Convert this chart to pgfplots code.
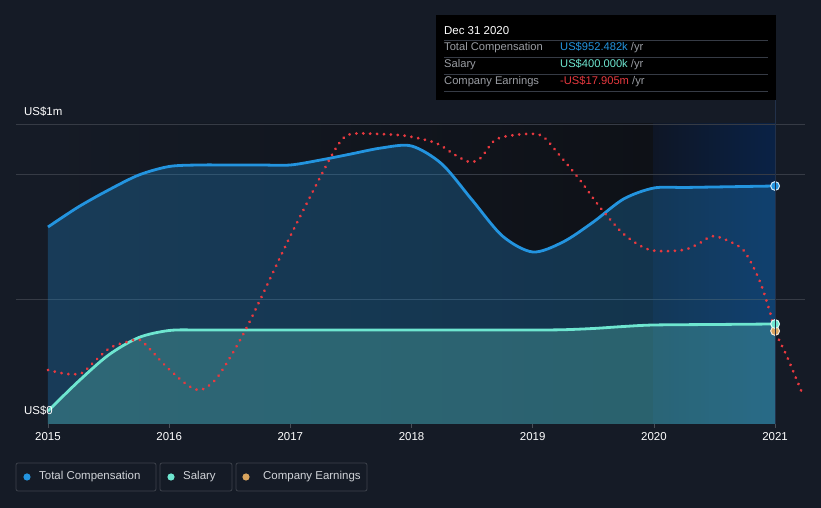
\documentclass[border=0pt]{standalone}
\usepackage{fontspec}
\setmainfont{Liberation Sans}
\usepackage{pgfplots}
\pgfplotsset{compat=1.18}

\definecolor{bg}{HTML}{151B26}
\definecolor{plotbg}{HTML}{0E1117}
\definecolor{bandL}{HTML}{0E1626}
\definecolor{bandR}{HTML}{0A2246}
\definecolor{gridc}{HTML}{363B45}
\definecolor{axisc}{HTML}{4A4F58}
\definecolor{compc}{HTML}{2394DF}
\definecolor{salc}{HTML}{6EE6D0}
\definecolor{earnc}{HTML}{E8393F}
\definecolor{earndot}{HTML}{D9A45E}
\definecolor{lblc}{HTML}{9A9DA3}
\definecolor{legtxt}{HTML}{D0D3D8}
\definecolor{legbox}{HTML}{3D424B}
\definecolor{hoverc}{HTML}{22314A}

\pgfplotstableread{
year  comp
2015.0  788
2015.25 868
2015.5  936
2015.75 996
2016.0  1030
2016.25 1036
2016.5  1036
2016.75 1036
2017.0  1036
2017.25 1056
2017.5  1080
2017.75 1104
2018.0  1112
2018.25 1040
2018.5  896
2018.75 752
2019.0  688
2019.25 728
2019.5  808
2019.75 900
2020.0  944
2020.25 946
2020.5  948
2020.75 950
2021.0  952
}\comptable

\pgfplotstableread{
year  sal
2015.0  52
2015.25 170
2015.5  276
2015.75 346
2016.0  374
2016.25 376
2016.5  376
2016.75 376
2017.0  376
2017.5  376
2018.0  376
2018.5  376
2019.0  376
2019.25 377
2019.5  382
2019.75 390
2020.0  396
2020.5  398
2021.0  400
}\saltable

\pgfplotstableread{
year    earn
2015.0   216
2015.157 200
2015.28  204
2015.37  244
2015.51  304
2015.65  328
2015.76  336
2015.87  284
2015.98  228
2016.15  156
2016.26  136
2016.38  176
2016.5   264
2016.63  376
2016.75  496
2017.0   752
2017.29  1028
2017.41  1128
2017.5   1160
2017.73  1160
2017.96  1152
2018.2   1124
2018.36  1076
2018.48  1048
2018.57  1064
2018.69  1136
2018.85  1156
2019.02  1160
2019.1   1144
2019.22  1076
2019.39  976
2019.56  864
2019.76  756
2019.97  696
2020.24  696
2020.38  724
2020.5   752
2020.71  708
2020.79  656
2020.88  564
2020.96  444
2021.0   372
2021.1   268
2021.23  116
}\earntable

\begin{document}
\begin{tikzpicture}[x=1bp,y=1bp]
\useasboundingbox (0,0) rectangle (821,508);
\fill[bg] (0,0) rectangle (821,508);
% darker plot area and the hover band
\shade[left color=bg, right color=plotbg] (48,84) rectangle (653,384);
\shade[left color=bandL, right color=bandR] (653,84) rectangle (775,384);

\begin{axis}[
    at={(16bp,84bp)}, anchor=south west,
    scale only axis, width=789bp, height=300bp,
    xmin=2014.736, xmax=2021.247,
    ymin=0, ymax=1200,
    axis line style={draw=none},
    xtick={2015,2016,2017,2018,2019,2020,2021},
    xticklabels={2015,2016,2017,2018,2019,2020,2021},
    xtick pos=bottom, tick align=outside,
    major tick length=4bp,
    xtick style={draw=axisc, line width=0.7bp},
    xticklabel style={font=\fontsize{11.5}{13}\selectfont, text=white, yshift=-0.5bp},
    ytick={500,1000}, yticklabels={}, ytick style={draw=none},
    ymajorgrids, grid style={draw=gridc, line width=0.8bp},
    clip=true,
]
% total compensation area
\addplot[draw=none, fill=compc, fill opacity=0.27, smooth] table[x=year, y=comp] {\comptable} \closedcycle;
% salary area
\addplot[draw=none, fill=salc, fill opacity=0.26, smooth] table[x=year, y=sal] {\saltable} \closedcycle;

% axis lines at 0 and top
\draw[axisc, line width=0.9bp] (rel axis cs:0,0) -- (rel axis cs:1,0);
\draw[gridc, line width=0.8bp] (rel axis cs:0,1) -- (rel axis cs:1,1);

% total compensation line
\addplot[compc, line width=2.8bp, smooth] table[x=year, y=comp] {\comptable};
% salary line
\addplot[salc, line width=2.8bp, smooth] table[x=year, y=sal] {\saltable};
% company earnings (own scale, dotted)
\addplot[earnc, line width=3bp, line cap=round, dash pattern=on 0.1bp off 6.8bp, smooth] table[x=year, y=earn] {\earntable};
% end points
\addplot[only marks, mark=*, mark size=4.4bp, mark options={fill=compc, draw=white!80!compc, line width=1bp}] coordinates {(2021,952)};
\addplot[only marks, mark=*, mark size=4.4bp, mark options={fill=earndot, draw=white!75!earndot, line width=1bp}] coordinates {(2021,372)};
\addplot[only marks, mark=*, mark size=4.4bp, mark options={fill=salc, draw=white!75!salc, line width=1bp}] coordinates {(2021,400)};
\end{axis}

% hover line
\draw[hoverc, line width=0.8bp] (775,84) -- (775,408);

% y labels
\node[anchor=west, text=white, font=\fontsize{11.5}{13}\selectfont, inner sep=0] at (24,396) {US\$1m};
\node[anchor=west, text=white, font=\fontsize{11.5}{13}\selectfont, inner sep=0] at (24,97) {US\$0};

% tooltip
\fill[black] (436,408) rectangle (776,493);
\node[anchor=west, text=white, font=\fontsize{11.5}{13}\selectfont, inner sep=0] at (444,477) {Dec 31 2020};
\foreach \yy in {468,451,434,417} {\draw[gridc, line width=0.7bp] (444,\yy) -- (768,\yy);}
\begin{scope}[every node/.style={anchor=west, inner sep=0, font=\fontsize{11.2}{13}\selectfont}]
\node[text=lblc] at (444,460) {Total Compensation};
\node[text=lblc] at (444,443) {Salary};
\node[text=lblc] at (444,426) {Company Earnings};
\node at (560,460) {\textcolor{compc}{US\$952.482k} \textcolor{lblc}{/yr}};
\node at (560,443) {\textcolor{salc}{US\$400.000k} \textcolor{lblc}{/yr}};
\node at (560,426) {\textcolor{earnc}{-US\$17.905m} \textcolor{lblc}{/yr}};
\end{scope}

% legend
\begin{scope}[every node/.style={anchor=west, inner sep=0, text=legtxt, font=\fontsize{11.5}{13}\selectfont}]
\draw[legbox, line width=0.8bp, rounded corners=2bp] (16,17) rectangle (156,45);
\draw[legbox, line width=0.8bp, rounded corners=2bp] (160,17) rectangle (232,45);
\draw[legbox, line width=0.8bp, rounded corners=2bp] (236,17) rectangle (367,45);
\fill[compc] (27,31) circle (3.6);
\fill[salc] (171,31) circle (3.6);
\fill[earndot] (246,31) circle (3.6);
\node at (39,31) {Total Compensation};
\node at (183,31) {Salary};
\node at (263,31) {Company Earnings};
\end{scope}
\end{tikzpicture}
\end{document}
